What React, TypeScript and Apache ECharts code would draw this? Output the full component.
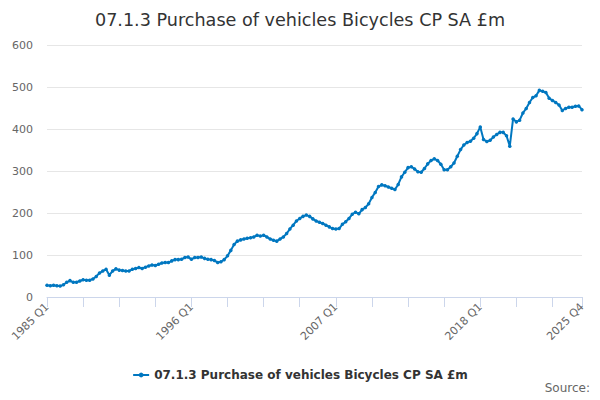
import React, { useEffect, useRef } from 'react';
import * as echarts from 'echarts';

const TITLE = '07.1.3 Purchase of vehicles Bicycles CP SA £m';
const START_YEAR = 1985;
const END_YEAR = 2025;

// quarterly values, 1985 Q1 .. 2025 Q4
const VALUES: number[] = [
  28, 27, 28, 27, 26, 29, 35, 39, 35, 35, 38, 41,
  40, 40, 43, 49, 57, 62, 66, 52, 62, 67, 64, 63,
  62, 62, 66, 68, 70, 68, 71, 74, 76, 75, 78, 81,
  82, 82, 86, 89, 89, 90, 94, 95, 90, 94, 94, 95,
  92, 90, 89, 87, 82, 84, 89, 98, 111, 125, 133, 136,
  138, 140, 141, 143, 147, 145, 147, 143, 138, 135, 133, 138,
  143, 151, 162, 171, 181, 187, 192, 195, 192, 186, 181, 178,
  175, 171, 167, 163, 162, 163, 173, 179, 187, 197, 202, 198,
  208, 213, 222, 237, 249, 263, 267, 265, 262, 259, 256, 268,
  286, 297, 308, 310, 305, 298, 297, 306, 317, 325, 329, 325,
  316, 303, 303, 310, 319, 335, 351, 362, 368, 371, 378, 389,
  405, 375, 370, 373, 381, 387, 392, 392, 384, 359, 424, 417,
  421, 438, 449, 463, 475, 479, 492, 490, 487, 473, 468, 463,
  457, 444, 449, 452, 452, 454, 455, 446,
];

const QUARTERS: string[] = [];
for (let y = START_YEAR; y <= END_YEAR; y += 1) {
  for (let q = 1; q <= 4; q += 1) {
    QUARTERS.push(`${y} Q${q}`);
  }
}

const Y_MIN = 0;
const Y_MAX = 600;
const Y_STEP = 100;
const LAST = QUARTERS.length - 1;

export default function App() {
  const chartRef = useRef<HTMLDivElement>(null);

  useEffect(() => {
    if (!chartRef.current) return;
    const chart = echarts.init(chartRef.current, undefined, { renderer: 'svg' });

    chart.setOption({
      animation: false,
      backgroundColor: '#ffffff',
      textStyle: { fontFamily: 'DejaVu Sans' },
      title: {
        text: TITLE,
        left: 'center',
        top: 6,
        textStyle: { fontSize: 17.6, fontWeight: 'normal', color: '#333333', fontFamily: 'DejaVu Sans' },
      },
      grid: { left: 47, right: 18, top: 45, bottom: 103, containLabel: false },
      legend: {
        bottom: 14,
        left: 'center',
        itemWidth: 16,
        itemHeight: 6,
        textStyle: { fontSize: 12, fontWeight: 'bold', color: '#333333' },
      },
      xAxis: {
        type: 'category',
        data: QUARTERS,
        boundaryGap: false,
        axisLine: { lineStyle: { color: '#ccd6eb' } },
        axisTick: {
          alignWithLabel: true,
          length: 10,
          lineStyle: { color: '#ccd6eb' },
          interval: (index: number) => index % 11 === 0 || index === LAST,
        },
        axisLabel: {
          rotate: 45,
          color: '#666666',
          fontSize: 11,
          margin: 8,
          interval: (index: number) => index % 44 === 0 || index === LAST,
        },
        splitLine: { show: false },
      },
      yAxis: {
        type: 'value',
        min: Y_MIN,
        max: Y_MAX,
        interval: Y_STEP,
        axisLine: { show: false },
        axisTick: { show: false },
        axisLabel: { color: '#666666', fontSize: 11, margin: 14 },
        splitLine: { lineStyle: { color: '#e6e6e6' } },
      },
      series: [
        {
          name: TITLE,
          type: 'line',
          data: VALUES,
          color: '#0077c0',
          symbol: 'circle',
          symbolSize: 3.5,
          showAllSymbol: true,
          lineStyle: { width: 2, color: '#0077c0' },
          itemStyle: { color: '#0077c0' },
        },
      ],
      graphic: [
        {
          type: 'text',
          right: 10,
          top: 382,
          style: { text: 'Source:', fill: '#666666', fontSize: 12, fontFamily: 'DejaVu Sans' },
        },
      ],
    });

    return () => {
      chart.dispose();
    };
  }, []);

  return <div ref={chartRef} style={{ width: 600, height: 400, margin: -8 }} />;
}
